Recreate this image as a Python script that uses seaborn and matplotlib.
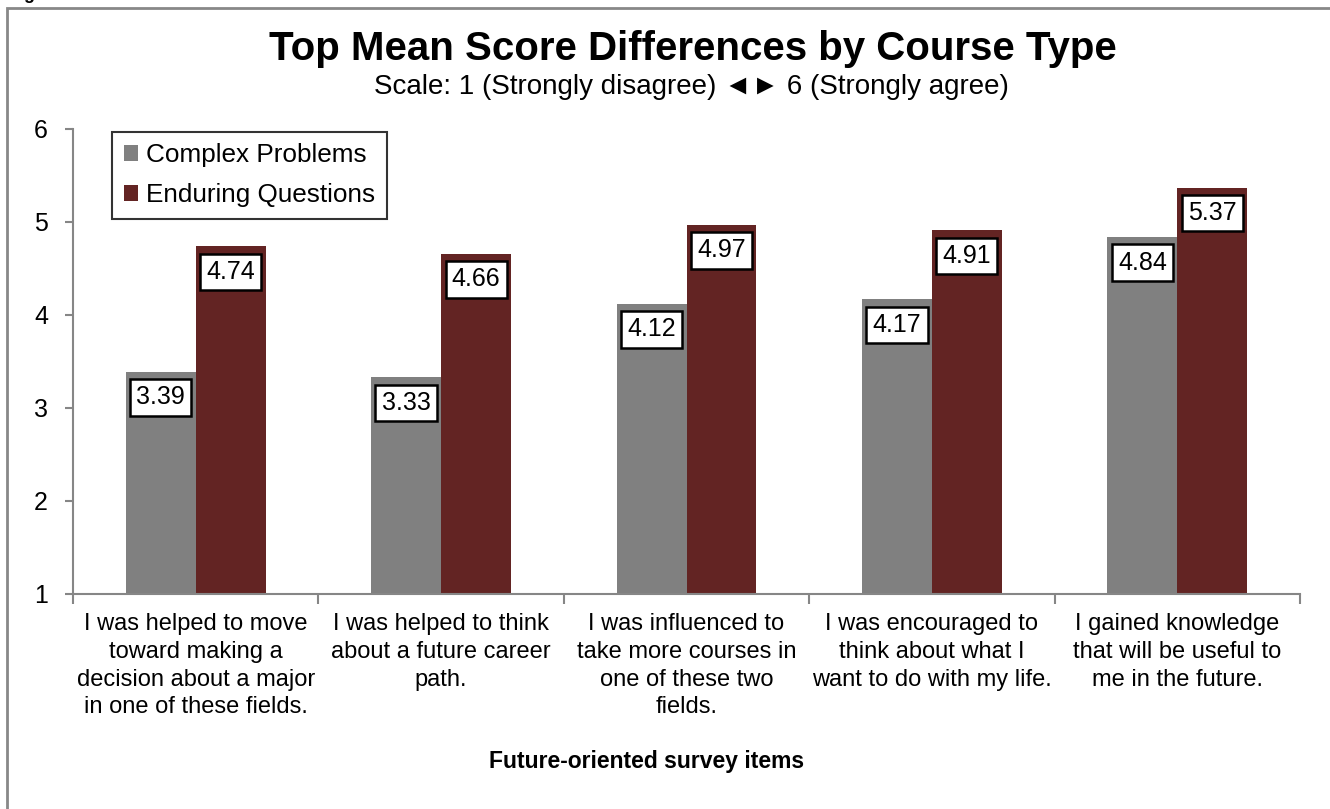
import pandas as pd
import matplotlib.pyplot as plt
import seaborn as sns
from matplotlib.patches import Rectangle

# data
items = [
    "I was helped to move\ntoward making a\ndecision about a major\nin one of these fields.",
    "I was helped to think\nabout a future career\npath.",
    "I was influenced to\ntake more courses in\none of these two\nfields.",
    "I was encouraged to\nthink about what I\nwant to do with my life.",
    "I gained knowledge\nthat will be useful to\nme in the future.",
]
complex_problems = [3.39, 3.33, 4.12, 4.17, 4.84]
enduring_questions = [4.74, 4.66, 4.97, 4.91, 5.37]
series_names = ["Complex Problems", "Enduring Questions"]
colors = ["#808080", "#632423"]

df = pd.DataFrame({
    "item": items * 2,
    "course": [series_names[0]] * len(items) + [series_names[1]] * len(items),
    "score": complex_problems + enduring_questions,
})

sns.set_theme(style="white")
plt.rcParams['font.family'] = ['Liberation Sans', 'DejaVu Sans']
plt.rcParams.update({'text.color': 'black', 'axes.labelcolor': 'black',
                     'xtick.color': 'black', 'ytick.color': 'black'})

fig = plt.figure(figsize=(13.3, 8.09), dpi=100)
ax = fig.add_axes([0.0549, 0.2658, 0.9226, 0.5748])

sns.barplot(data=df, x="item", y="score", hue="course", palette=colors,
            width=0.57, saturation=1, ax=ax, edgecolor="none", linewidth=0)

ax.set_ylim(1, 6)
ax.set_yticks(range(1, 7))
ax.set_xlim(-0.5, len(items) - 0.5)

# value labels in white boxes just below each bar top
for container in ax.containers:
    for bar in container:
        h = bar.get_height()
        ax.annotate(f"{h:.2f}", (bar.get_x() + bar.get_width() / 2, h),
                    xytext=(0, -18.5), textcoords="offset points",
                    ha="center", va="center", fontsize=18,
                    bbox=dict(boxstyle="square,pad=0.25", fc="white",
                              ec="black", lw=1.8))

# axes styling
for side in ["top", "right"]:
    ax.spines[side].set_visible(False)
for side in ["left", "bottom"]:
    ax.spines[side].set_color("#868686")
    ax.spines[side].set_linewidth(1.5)

ax.tick_params(axis="y", which="major", left=True, length=6, width=1.5,
               color="#868686", labelsize=18, pad=12)
ax.tick_params(axis="x", which="major", bottom=False, length=0,
               labelsize=17, pad=14)
ax.set_xticks([i + 0.5 for i in range(-1, len(items))], minor=True)
ax.tick_params(axis="x", which="minor", bottom=True, length=7, width=1.5,
               color="#868686")
for lbl in ax.get_xticklabels():
    lbl.set_multialignment("center")
    lbl.set_linespacing(1.33)

ax.set_ylabel("")
ax.set_xlabel("")
fig.text(0.486, 0.059, "Future-oriented survey items", ha="center",
         va="center", fontsize=16.5, fontweight="bold")

leg = ax.legend(loc="upper left", bbox_to_anchor=(0.032, 0.994),
                borderaxespad=0, fontsize=18.8, frameon=True, fancybox=False,
                handlelength=0.55, handleheight=0.55, handletextpad=0.3,
                labelspacing=0.6, borderpad=0.45)
leg.get_frame().set_edgecolor("black")
leg.get_frame().set_linewidth(1.5)

fig.text(0.521, 0.940, "Top Mean Score Differences by Course Type",
         ha="center", va="center", fontsize=29, fontweight="bold")
fig.text(0.52, 0.892, "Scale: 1 (Strongly disagree) \u25c4\u25ba 6 (Strongly agree)",
         ha="center", va="center", fontsize=20)

# outer frame and the cut-off caption above it
fig.add_artist(Rectangle((0.0053, -0.2), 1.5, 1.19, transform=fig.transFigure,
                         fill=False, ec="#888888", lw=2))
fig.text(0.006, 1 - 3 / 809, "Figure 6", ha="left", va="bottom",
         fontsize=13, fontweight="bold")

fig.savefig("out.png", dpi=100)
